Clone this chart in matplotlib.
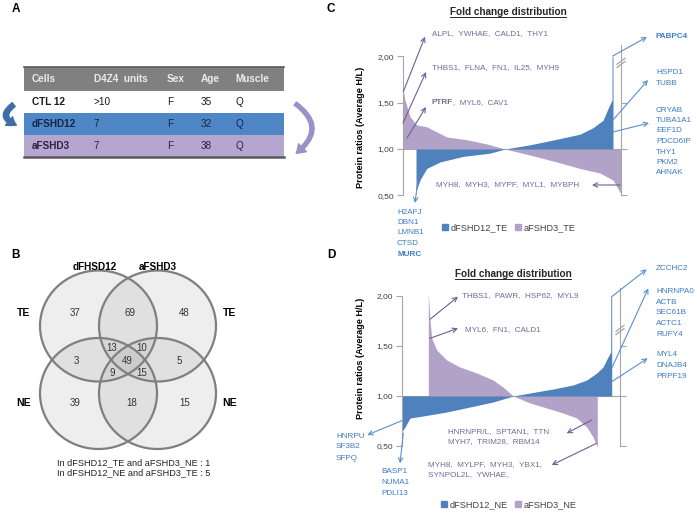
import matplotlib
matplotlib.use('Agg')
import matplotlib.pyplot as plt
from matplotlib.patches import Rectangle, Ellipse, FancyArrowPatch, Patch

plt.rcParams['font.family'] = ['Liberation Sans', 'DejaVu Sans']

W, H = 697, 515

# ------------------------------------------------------------------ data
table_columns = ['Cells', 'D4Z4  units', 'Sex', 'Age', 'Muscle']
table_rows = [['CTL 12', '>10', 'F', '35', 'Q'],
              ['dFSHD12', '7', 'F', '32', 'Q'],
              ['aFSHD3', '7', 'F', '38', 'Q']]

venn_sets = ['dFHSD12', 'aFSHD3']
venn_fracs = ['TE', 'NE']
# regions: TL=dFSHD12_TE, TR=aFSHD3_TE, BL=dFSHD12_NE, BR=aFSHD3_NE
venn_regions = ['TL', 'TL&TR', 'TR', 'TL&TR&BL', 'TL&TR&BR', 'TL&BL', 'ALL',
                'TR&BR', 'TL&BL&BR', 'TR&BL&BR', 'BL', 'BL&BR', 'BR']
venn_counts = [37, 69, 48, 13, 10, 3, 49, 5, 9, 15, 39, 18, 15]
venn_notes = ['In dFSHD12_TE and aFSHD3_NE : 1',
              'In dFSHD12_NE and aFSHD3_TE : 5']

# fold change distributions (protein rank, average H/L ratio)
c_rank_d = [13.3, 17.3, 24, 37.3, 60.3, 87.3, 102.3, 127.3, 154, 177.3, 190.3,
            200.3, 206.3, 209.3, 209.4, 210.3]
c_ratio_d = [0.54, 0.665, 0.79, 0.86, 0.92, 0.955, 1.0, 1.045, 1.105, 1.16, 1.23,
             1.31, 1.46, 1.53, 2.0, 2.0]
c_rank_a = [0, 2.3, 7.3, 14, 24, 44, 64, 84, 102.3, 127.3, 154, 177.3, 197.3,
            210.3, 214.3, 218]
c_ratio_a = [1.67, 1.53, 1.35, 1.26, 1.24, 1.13, 1.10, 1.055, 1.0, 0.935, 0.86,
             0.79, 0.74, 0.665, 0.59, 0.52]

d_rank_d = [0, 3.3, 8.3, 21.3, 45, 68.3, 91.3, 111.6, 128.3, 151.3, 171.3, 185,
            195, 201.3, 206.3, 209, 209.1, 210]
d_ratio_d = [0.64, 0.69, 0.78, 0.80, 0.84, 0.89, 0.94, 1.0, 1.03, 1.07, 1.11, 1.16,
             1.23, 1.29, 1.39, 1.44, 2.0, 2.0]
d_rank_a = [26.6, 28.3, 30, 35, 45, 58.3, 75, 91.3, 101.3, 111.6, 128.3, 145,
            161.3, 175, 185, 191.3, 195.6]
d_ratio_a = [2.02, 1.76, 1.58, 1.46, 1.36, 1.29, 1.23, 1.16, 1.09, 1.0, 0.93, 0.88,
             0.83, 0.78, 0.69, 0.59, 0.49]

y_ticks = [0.5, 1.0, 1.5, 2.0]
y_ticklabels = ['0,50', '1,00', '1,50', '2,00']
c_legend = ['dFSHD12_TE', 'aFSHD3_TE']
d_legend = ['dFSHD12_NE', 'aFSHD3_NE']

# ------------------------------------------------------------------ style
BLUE = '#4f81bd'
PURPLE = '#b3a2c7'
TXT_P = '#76689a'
TXT_B = '#3d7cc4'
ARR_P = '#6e5f98'
ARR_B = '#5b8fd0'
GRAY = '#a6a6a6'

fig = plt.figure(figsize=(W / 100, H / 100), dpi=100)

ov = fig.add_axes([0, 0, 1, 1])
ov.set_xlim(0, W)
ov.set_ylim(H, 0)
ov.axis('off')
ov.set_zorder(5)
ov.patch.set_alpha(0)

# panel letters
for lab, (x, y) in zip('ABCD', [(16, 9), (16, 255), (331, 9), (331, 255)]):
    ov.text(x, y, lab, fontsize=8.5, fontweight='bold', ha='center', va='center')

# ------------------------------------------------------------------ panel A: table
tab_left, tab_right = 24, 284
row_edges = [67, 91, 113, 135, 157]
col_x = [32, 94, 167, 201, 235]
row_fill = ['#808080', 'white', '#4f86c6', '#b4a6cf']
for i in range(4):
    ov.add_patch(Rectangle((tab_left, row_edges[i]), tab_right - tab_left,
                           row_edges[i + 1] - row_edges[i], facecolor=row_fill[i],
                           edgecolor='none', zorder=1))
ov.plot([tab_left, tab_right], [row_edges[0], row_edges[0]], color='#5a5a5a', lw=1.2, zorder=2)
ov.plot([tab_left, tab_right], [row_edges[-1], row_edges[-1]], color='#5a5a5a', lw=1.8, zorder=2)
hy = (row_edges[0] + row_edges[1]) / 2
for x, s in zip(col_x, table_columns):
    ov.text(x, hy, s, fontsize=7.2, fontweight='bold', color='#ececec', va='center', zorder=3)
row_txt = ['#1a1a1a', '#15264a', '#2a2440']
for r, row in enumerate(table_rows):
    yc = (row_edges[r + 1] + row_edges[r + 2]) / 2
    for c, (x, s) in enumerate(zip(col_x, row)):
        ov.text(x, yc, s, fontsize=7.2, fontweight='bold' if c == 0 else 'normal',
                color=row_txt[r], va='center', zorder=3)

ov.add_patch(FancyArrowPatch((16, 103), (19, 126), connectionstyle='arc3,rad=1.0',
                             arrowstyle='simple,head_length=0.6,head_width=0.8,tail_width=0.35',
                             mutation_scale=10, color='#3f6fa8', zorder=3))
ov.add_patch(FancyArrowPatch((293, 102), (294, 155), connectionstyle='arc3,rad=-0.7',
                             arrowstyle='simple,head_length=0.6,head_width=0.8,tail_width=0.28',
                             mutation_scale=10, color='#9e90c6', zorder=3))

# ------------------------------------------------------------------ panel B: venn
cx = [98.5, 157.5]
cy = [326, 393.5]
ew, eh = 117, 111
for yy in cy:
    for xx in cx:
        ov.add_patch(Ellipse((xx, yy), ew, eh, facecolor='#a0a0a0', alpha=0.17,
                             edgecolor='none', zorder=1))
for yy in cy:
    for xx in cx:
        ov.add_patch(Ellipse((xx, yy), ew, eh, facecolor='none', edgecolor='#7f7f7f',
                             lw=1.6, zorder=2))
region_pos = {'TL': (75, 313), 'TL&TR': (130, 313), 'TR': (184, 313),
              'TL&TR&BL': (112, 348), 'TL&TR&BR': (142, 348), 'TL&BL': (76, 361),
              'ALL': (127, 361), 'TR&BR': (179, 361), 'TL&BL&BR': (112, 373),
              'TR&BL&BR': (142, 373), 'BL': (75, 403), 'BL&BR': (132, 403),
              'BR': (185, 403)}
for reg, n in zip(venn_regions, venn_counts):
    x, y = region_pos[reg]
    ov.text(x, y, str(n), fontsize=7, color='#333333', ha='center', va='center', zorder=3)
for s, x in zip(venn_sets, [95, 158]):
    ov.text(x, 267, s, fontsize=7.2, fontweight='bold', ha='center', va='center')
for s, y in zip(venn_fracs, [313, 403]):
    ov.text(24, y, s, fontsize=7.5, fontweight='bold', ha='center', va='center')
    ov.text(230, y, s, fontsize=7.5, fontweight='bold', ha='center', va='center')
for s, y in zip(venn_notes, [463, 473]):
    ov.text(57, y, s, fontsize=6.6, color='#222222', va='center')


# ------------------------------------------------------------------ panels C & D
def fold_panel(left, right, y_one, ppu, top_val, break_val,
               rank_d, ratio_d, rank_a, ratio_a, legend, leg_xy, title_xy, ylab_y):
    ylo, yhi = 0.40, 2.20
    top = y_one - (yhi - 1) * ppu
    bottom = y_one - (ylo - 1) * ppu
    ax = fig.add_axes([left / W, 1 - bottom / H, (right - left) / W, (bottom - top) / H])
    ax.set_xlim(0, right - left)
    ax.set_ylim(ylo, yhi)
    ax.patch.set_alpha(0)
    ax.axhline(1.0, color=GRAY, lw=0.8, zorder=0)
    ax.fill_between(rank_a, 1.0, ratio_a, color=PURPLE, lw=0, zorder=2)
    ax.fill_between(rank_d, 1.0, ratio_d, color=BLUE, lw=0, zorder=2)
    for sp in ['top', 'bottom', 'right']:
        ax.spines[sp].set_visible(False)
    ax.spines['left'].set_color(GRAY)
    ax.spines['left'].set_bounds(0.5, 2.0)
    ax.set_xticks([])
    ax.set_yticks(y_ticks)
    ax.set_yticklabels(y_ticklabels)
    ax.tick_params(axis='y', direction='out', length=4, color=GRAY, labelsize=6,
                   labelcolor='#404040', pad=2)
    ax.set_ylabel('Protein ratios (Average H/L)', fontsize=6.6, fontweight='bold')
    ax.yaxis.set_label_coords((365 - left) / (right - left), (bottom - ylab_y) / (bottom - top))

    ax2 = ax.twinx()
    ax2.set_ylim(ylo, yhi)
    for sp in ['top', 'bottom', 'left']:
        ax2.spines[sp].set_visible(False)
    ax2.spines['right'].set_color(GRAY)
    ax2.spines['right'].set_bounds(0.5, top_val)
    ax2.set_yticks(y_ticks[:3])
    ax2.set_yticklabels([])
    ax2.tick_params(axis='y', direction='out', length=4, color=GRAY)

    # axis break marks
    bx = right
    by = y_one - (break_val - 1) * ppu
    for off in (-1.6, 1.6):
        ov.plot([bx - 4, bx + 4], [by + 3 + off, by - 3 + off], color=GRAY, lw=0.9)

    ax.legend([Patch(color=BLUE), Patch(color=PURPLE)], legend, ncol=2,
              loc='center', bbox_to_anchor=(leg_xy[0] / W, 1 - leg_xy[1] / H),
              bbox_transform=fig.transFigure, frameon=False, fontsize=6.6,
              handlelength=0.6, handleheight=0.6, handletextpad=0.3,
              columnspacing=0.8, labelcolor='#404040')

    t = ov.text(title_xy[0], title_xy[1], 'Fold change distribution', fontsize=7.2,
                fontweight='bold', ha='center', va='center', color='#262626')
    return ax, t


axC, tC = fold_panel(402.7, 621, 149, 92.6, 2.12, 1.93, c_rank_d, c_ratio_d,
                     c_rank_a, c_ratio_a, c_legend, (509, 228), (508, 12), 127)
axD, tD = fold_panel(401.7, 620, 396, 100, 2.08, 1.66, d_rank_d, d_ratio_d,
                     d_rank_a, d_ratio_a, d_legend, (509, 505), (513, 274), 358)


def arrow(p0, p1, col):
    ov.annotate('', xy=p1, xytext=p0,
                arrowprops=dict(arrowstyle='->', color=col, lw=0.8, shrinkA=0, shrinkB=0,
                                mutation_scale=8))


def label(x, y, s, col, bold=False):
    return ov.text(x, y, s, fontsize=5.9, color=col, va='center',
                   fontweight='bold' if bold else 'normal')


# panel C annotations
arrow((403.3, 91.7), (425, 36.7), ARR_P)
arrow((403, 123), (426, 72), ARR_P)
arrow((407, 138), (426, 107), ARR_P)
arrow((620, 185), (592, 185), ARR_P)
arrow((418, 180), (415, 203), ARR_B)
arrow((612.7, 56), (647, 37), ARR_B)
arrow((613, 120), (648, 80), ARR_B)
arrow((613, 132), (649, 123), ARR_B)
label(432, 34, 'ALPL,  YWHAE,  CALD1,  THY1', TXT_P)
label(432, 68, 'THBS1,  FLNA,  FN1,  IL25,  MYH9', TXT_P)
ptrf = label(432, 103, 'PTRF', TXT_P, bold=True)
label(453, 103, ',  MYL6,  CAV1', TXT_P)
label(436, 185, 'MYH8,  MYH3,  MYPF,  MYL1,  MYBPH', TXT_P)
for i, g in enumerate(['H2AFJ', 'DBN1', 'LMNB1', 'CTSD', 'MURC']):
    label(397, 212 + i * 10.5, g, TXT_B, bold=(g == 'MURC'))
label(656, 37, 'PABPC4', TXT_B, bold=True)
for i, g in enumerate(['HSPD1', 'TUBB']):
    label(656, 73 + i * 10.8, g, TXT_B)
for i, g in enumerate(['CRYAB', 'TUBA1A1', 'EEF1D', 'PDCD6IP', 'THY1', 'PKM2', 'AHNAK']):
    label(656, 110 + i * 10.5, g, TXT_B)

# panel D annotations
arrow((430, 319.3), (458, 296.7), ARR_P)
arrow((430, 338.3), (458, 328.3), ARR_P)
arrow((591.7, 420), (566.7, 433.3), ARR_P)
arrow((596.7, 443.3), (551.7, 465), ARR_P)
arrow((401.7, 420.7), (367.3, 435), ARR_B)
arrow((403.3, 433.3), (400, 463.3), ARR_B)
arrow((611.7, 296.7), (646.7, 269.3), ARR_B)
arrow((611.7, 368.3), (648.3, 288.3), ARR_B)
arrow((611.7, 381.7), (647.7, 358.3), ARR_B)
label(461.7, 296, 'THBS1,  PAWR,  HSP62,  MYL9', TXT_P)
label(465, 329.3, 'MYL6,  FN1,  CALD1', TXT_P)
label(448.3, 431.7, 'HNRNPR/L,  SPTAN1,  TTN', TXT_P)
label(448.3, 441.7, 'MYH7,  TRIM28,  RBM14', TXT_P)
label(428.3, 465, 'MYH8,  MYLPF,  MYH3,  YBX1,', TXT_P)
label(428.3, 475, 'SYNPOL2L,  YWHAE,', TXT_P)
for i, g in enumerate(['HNRPU', 'SF3B2', 'SFPQ']):
    label(336, 436 + i * 11, g, TXT_B)
for i, g in enumerate(['BASP1', 'NUMA1', 'PDLI13']):
    label(381.7, 471.7 + i * 10.8, g, TXT_B)
label(656, 269, 'ZCCHC2', TXT_B)
for i, g in enumerate(['HNRNPA0', 'ACTB', 'SEC61B', 'ACTC1', 'RUFY4']):
    label(656, 291.7 + i * 10.6, g, TXT_B)
for i, g in enumerate(['MYL4', 'DNAJB4', 'PRPF19']):
    label(656, 355 + i * 10.8, g, TXT_B)

# underline titles
fig.canvas.draw()
inv = ov.transData.inverted()
for t in (tC, tD):
    bb = t.get_window_extent()
    (x0, y0), (x1, y1) = inv.transform([[bb.x0, bb.y0], [bb.x1, bb.y1]])
    ov.plot([x0, x1], [y0 + 0.3, y0 + 0.3], color='#262626', lw=0.7)

fig.savefig('out.png', dpi=100)
